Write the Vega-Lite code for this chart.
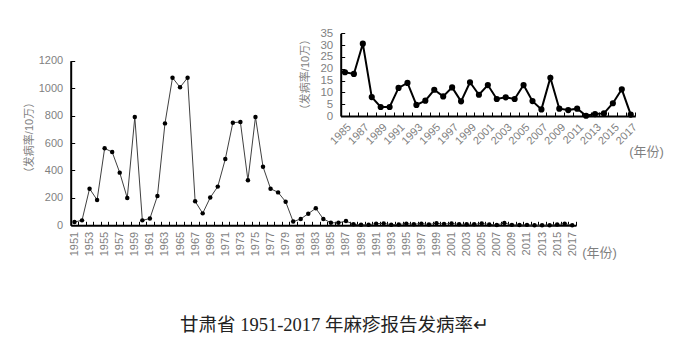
{
  "$schema": "https://vega.github.io/schema/vega-lite/v6.json",
  "width": 699,
  "height": 353,
  "autosize": "none",
  "padding": 0,
  "background": "white",
  "config": {"view": {"stroke": null}, "font": "Liberation Sans, Noto Sans CJK SC"},
  "title": {
    "text": "甘肃省 1951-2017 年麻疹报告发病率↵",
    "orient": "top",
    "anchor": "middle",
    "frame": "group",
    "offset": 0,
    "dx": -15,
    "dy": 343,
    "baseline": "middle",
    "font": "Liberation Serif, Noto Sans CJK SC",
    "fontSize": 18.5,
    "fontWeight": "normal",
    "color": "#222222"
  },
  "data": {
    "values": [
      {"year": 1951, "rate": 24}, {"year": 1952, "rate": 36}, {"year": 1953, "rate": 267}, {"year": 1954, "rate": 185},
      {"year": 1955, "rate": 561}, {"year": 1956, "rate": 534}, {"year": 1957, "rate": 384}, {"year": 1958, "rate": 199},
      {"year": 1959, "rate": 789}, {"year": 1960, "rate": 36}, {"year": 1961, "rate": 49}, {"year": 1962, "rate": 214},
      {"year": 1963, "rate": 743}, {"year": 1964, "rate": 1076}, {"year": 1965, "rate": 1006}, {"year": 1966, "rate": 1076},
      {"year": 1967, "rate": 175}, {"year": 1968, "rate": 87}, {"year": 1969, "rate": 202}, {"year": 1970, "rate": 282},
      {"year": 1971, "rate": 483}, {"year": 1972, "rate": 748}, {"year": 1973, "rate": 753}, {"year": 1974, "rate": 328},
      {"year": 1975, "rate": 789}, {"year": 1976, "rate": 427}, {"year": 1977, "rate": 267}, {"year": 1978, "rate": 240},
      {"year": 1979, "rate": 172}, {"year": 1980, "rate": 27}, {"year": 1981, "rate": 46}, {"year": 1982, "rate": 85},
      {"year": 1983, "rate": 124}, {"year": 1984, "rate": 46}, {"year": 1985, "rate": 18.5}, {"year": 1986, "rate": 17.8},
      {"year": 1987, "rate": 30.6}, {"year": 1988, "rate": 8.0}, {"year": 1989, "rate": 3.8}, {"year": 1990, "rate": 3.8},
      {"year": 1991, "rate": 11.9}, {"year": 1992, "rate": 14.0}, {"year": 1993, "rate": 4.7}, {"year": 1994, "rate": 6.5},
      {"year": 1995, "rate": 11.1}, {"year": 1996, "rate": 8.3}, {"year": 1997, "rate": 12.1}, {"year": 1998, "rate": 6.2},
      {"year": 1999, "rate": 14.3}, {"year": 2000, "rate": 9.0}, {"year": 2001, "rate": 13.1}, {"year": 2002, "rate": 7.2},
      {"year": 2003, "rate": 7.9}, {"year": 2004, "rate": 7.2}, {"year": 2005, "rate": 13.1}, {"year": 2006, "rate": 6.3},
      {"year": 2007, "rate": 2.8}, {"year": 2008, "rate": 16.2}, {"year": 2009, "rate": 3.1}, {"year": 2010, "rate": 2.5},
      {"year": 2011, "rate": 3.1}, {"year": 2012, "rate": 0.1}, {"year": 2013, "rate": 0.8}, {"year": 2014, "rate": 1.1},
      {"year": 2015, "rate": 5.4}, {"year": 2016, "rate": 11.3}, {"year": 2017, "rate": 0.6}
    ]
  },
  "layer": [
    {
      "encoding": {
        "x": {
          "field": "year", "type": "ordinal",
          "scale": {"type": "band", "range": [70.7, 576], "paddingInner": 0, "paddingOuter": 0},
          "axis": {
            "orient": "bottom", "offset": -127.7, "tickBand": "extent",
            "tickSize": -4, "tickColor": "black", "tickWidth": 1,
            "domainColor": "black", "domainWidth": 2,
            "labelAngle": -90, "labelColor": "#7f7f7f", "labelFontSize": 11,
            "labelExpr": "datum.value % 2 == 1 ? datum.label : ''",
            "labelOverlap": false, "labelPadding": 10,
            "title": "(年份)", "titleX": 599, "titleY": 27, "titleAngle": 0,
            "titleColor": "#7f7f7f", "titleFontSize": 13, "titleFontWeight": "normal",
            "titleAlign": "center", "titleBaseline": "middle"
          }
        },
        "y": {
          "field": "rate", "type": "quantitative",
          "scale": {"domain": [0, 1200], "range": [225.3, 60.7], "nice": false, "zero": true},
          "axis": {
            "orient": "left", "offset": -70.7, "values": [0, 200, 400, 600, 800, 1000, 1200], "format": "d",
            "grid": false, "tickSize": -4, "tickColor": "black", "tickWidth": 1,
            "domainColor": "black", "domainWidth": 2,
            "labelColor": "#7f7f7f", "labelFontSize": 11, "labelPadding": 12,
            "title": "（发病率/10万）", "titleX": -41.4, "titleY": 137, "titleAngle": -90,
            "titleColor": "#7f7f7f", "titleFontSize": 11, "titleFontWeight": "normal",
            "titleAlign": "center", "titleBaseline": "middle"
          }
        }
      },
      "layer": [
        {"mark": {"type": "line", "color": "#404040", "strokeWidth": 1}},
        {"mark": {"type": "point", "filled": true, "color": "black", "size": 20, "opacity": 1}}
      ]
    },
    {
      "transform": [{"filter": "datum.year >= 1985"}],
      "encoding": {
        "x": {
          "field": "year", "type": "ordinal",
          "scale": {"type": "band", "range": [340.5, 635.2], "paddingInner": 0, "paddingOuter": 0},
          "axis": {
            "orient": "bottom", "offset": -237, "tickBand": "extent",
            "tickSize": -4, "tickColor": "black", "tickWidth": 1,
            "domainColor": "black", "domainWidth": 2,
            "labelAngle": -45, "labelAlign": "right", "labelBaseline": "top",
            "labelColor": "#7f7f7f", "labelFontSize": 11,
            "labelExpr": "datum.value % 2 == 1 ? datum.label : ''",
            "labelOverlap": false, "labelPadding": 9,
            "title": "(年份)", "titleX": 646, "titleY": 35, "titleAngle": 0,
            "titleColor": "#7f7f7f", "titleFontSize": 13, "titleFontWeight": "normal",
            "titleAlign": "center", "titleBaseline": "middle"
          }
        },
        "y": {
          "field": "rate", "type": "quantitative",
          "scale": {"domain": [0, 35], "range": [116, 33.3], "nice": false, "zero": true},
          "axis": {
            "orient": "left", "offset": -340.7, "values": [0, 5, 10, 15, 20, 25, 30, 35],
            "grid": false, "tickSize": -4, "tickColor": "black", "tickWidth": 1,
            "domainColor": "black", "domainWidth": 2,
            "labelColor": "#7f7f7f", "labelFontSize": 11.5, "labelPadding": 12,
            "title": "（发病率/10万）", "titleX": -35.7, "titleY": 74, "titleAngle": -90,
            "titleColor": "#7f7f7f", "titleFontSize": 11, "titleFontWeight": "normal",
            "titleAlign": "center", "titleBaseline": "middle"
          }
        }
      },
      "layer": [
        {"mark": {"type": "line", "color": "black", "strokeWidth": 2}},
        {"mark": {"type": "point", "filled": true, "color": "black", "size": 38, "opacity": 1}}
      ]
    }
  ],
  "resolve": {"scale": {"x": "independent", "y": "independent"}, "axis": {"x": "independent", "y": "independent"}}
}
